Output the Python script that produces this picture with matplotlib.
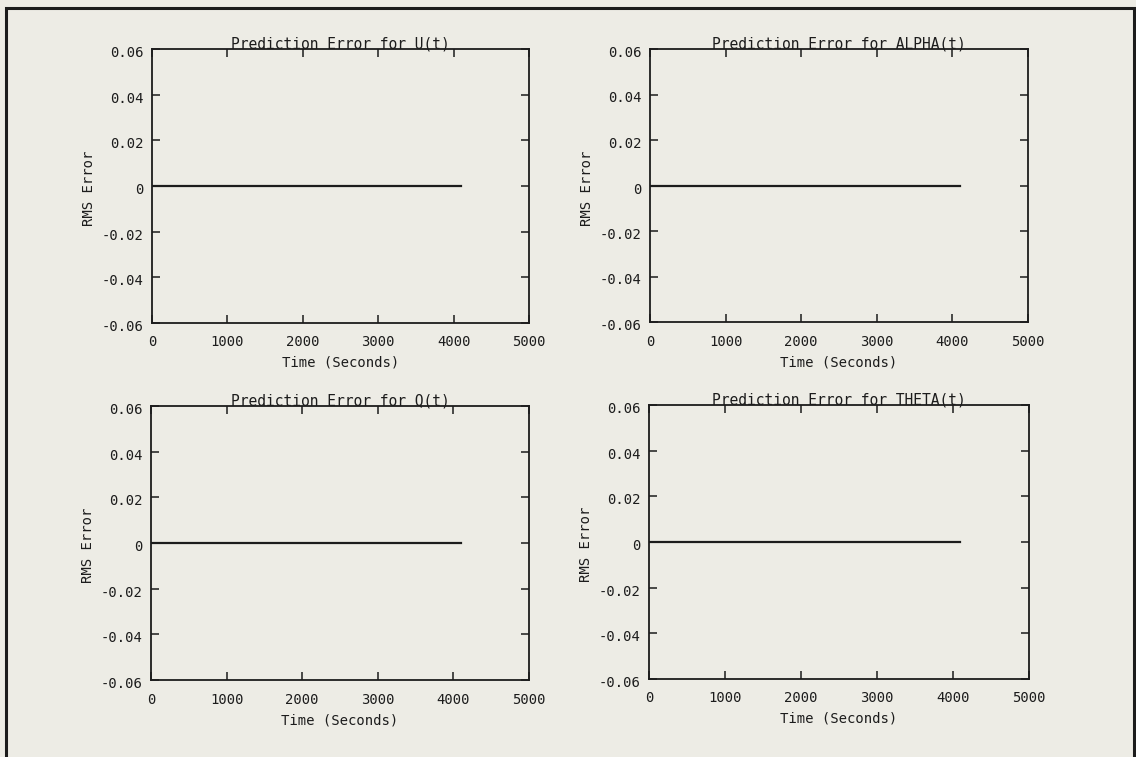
"""Recreate the 2x2 'Prediction Error' RMS panels."""
import matplotlib
matplotlib.use("Agg")
import matplotlib.pyplot as plt
import matplotlib.transforms as mtransforms
from matplotlib.patches import Rectangle

# data -----------------------------------------------------------------
titles = [
    "Prediction Error for U(t)",
    "Prediction Error for ALPHA(t)",
    "Prediction Error for Q(t)",
    "Prediction Error for THETA(t)",
]
time_s = [0, 4096]
rms_err = [0.0, 0.0]
xticks = [0, 1000, 2000, 3000, 4000, 5000]
yticks = [-0.06, -0.04, -0.02, 0, 0.02, 0.04, 0.06]
ytick_labels = ["-0.06", "-0.04", "-0.02", "0", "0.02", "0.04", "0.06"]

BG = "#edece5"
INK = "#1c1c1c"
FONT = "DejaVu Sans Mono"

plt.rcParams["font.family"] = FONT
plt.rcParams["font.size"] = 10

W, H = 1136, 757
fig = plt.figure(figsize=(W / 100, H / 100), dpi=100, facecolor=BG)

# axes boxes in pixels: (left, top, right, bottom)
boxes = [
    (152, 49, 529, 323),
    (650, 49, 1028, 322),
    (151, 406, 529, 680),
    (649, 405, 1029, 679),
]

# y tick labels sit a touch below their ticks in the original
ylab_shift = mtransforms.ScaledTranslation(0, -2.5 / 100, fig.dpi_scale_trans)

for box, title in zip(boxes, titles):
    l, t, r, b = box
    ax = fig.add_axes([l / W, 1 - b / H, (r - l) / W, (b - t) / H])
    ax.set_facecolor(BG)
    ax.plot(time_s, rms_err, color=INK, lw=1.6)
    ax.set_xlim(0, 5000)
    ax.set_ylim(-0.06, 0.06)
    ax.set_xticks(xticks)
    ax.set_yticks(yticks)
    ax.set_yticklabels(ytick_labels)
    ax.tick_params(direction="in", length=6, width=1.1, color=INK,
                   top=True, right=True, labelcolor=INK, labelsize=10)
    ax.tick_params(axis="x", pad=9)
    ax.tick_params(axis="y", pad=6)
    for lab in ax.get_yticklabels():
        lab.set_transform(lab.get_transform() + ylab_shift)
    for sp in ax.spines.values():
        sp.set_linewidth(1.3)
        sp.set_color(INK)

    ax.set_xlabel("Time (Seconds)", fontsize=10, color=INK)
    ax.xaxis.set_label_coords(0.5, -40 / (b - t), transform=ax.transAxes)
    ax.xaxis.label.set_va("center")
    ax.set_ylabel("RMS Error", fontsize=10, color=INK)
    ax.yaxis.set_label_coords(-63 / (r - l), 0.49)
    ax.yaxis.label.set_va("center")

    trans = mtransforms.offset_copy(ax.transAxes, fig=fig, x=0, y=0.5, units="dots")
    ax.text(0.5, 1.0, title, transform=trans, ha="center", va="baseline",
            fontsize=10.5, color=INK)

# outer frame (bottom edge falls outside the picture)
fig.patches.append(Rectangle((6 / W, -0.05), (1134 - 6) / W, 1.05 - 8 / H,
                             transform=fig.transFigure, fill=False,
                             edgecolor=INK, linewidth=2.2))

fig.savefig("out.png", dpi=100, facecolor=BG)
